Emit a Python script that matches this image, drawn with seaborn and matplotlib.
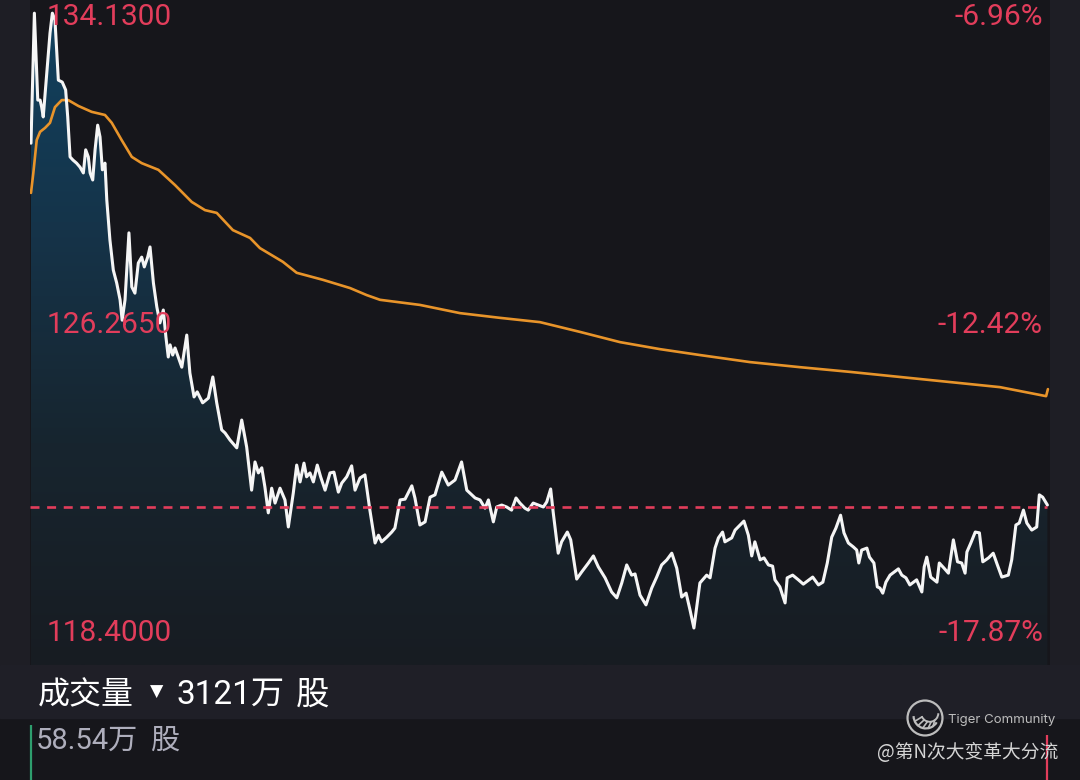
import numpy as np
import matplotlib
matplotlib.use("Agg")
import matplotlib.pyplot as plt
import matplotlib.transforms as mtrans
from matplotlib.patches import Rectangle, Circle, Arc
from matplotlib.colors import LinearSegmentedColormap
import seaborn as sns

# ---------------- data ----------------
minute = [0, 1.3, 2.6, 3.5, 4.1, 4.7, 7.3, 8.2, 9.2, 10.5, 12.0, 13.3, 14.1, 15.0, 16.1, 17.5,
          18.8, 20.1, 21.0, 22.0, 22.7, 23.7, 24.6, 25.6, 26.5, 27.4, 28.4, 29.1, 30.3, 31.6,
          32.9, 34.2, 35.0, 36.1, 37.6, 38.7, 39.9, 41.2, 42.5, 43.5, 44.8, 45.7, 47.0, 48.3,
          49.5, 50.8, 51.8, 52.7, 53.4, 54.4, 55.3, 56.5, 57.9, 59.8, 61.0, 62.6, 63.8, 65.9,
          68.1, 69.8, 71.3, 73.2, 74.5, 76.4, 79.0, 80.9, 82.8, 84.7, 86.0, 87.3, 88.6, 89.8,
          91.1, 92.4, 93.7, 95.6, 97.5, 98.8, 100.7, 102.0, 103.3, 104.8, 105.8, 107.1, 108.4,
          109.9, 111.2, 112.9, 114.8, 116.3, 118.0, 119.3, 121.2, 123.1, 124.4, 126.3, 128.2,
          130.1, 132.1, 133.4, 134.6, 136.6, 138.5, 139.7, 141.7, 143.6, 146.2, 147.4, 149.3,
          151.3, 153.2, 155.1, 157.7, 160.2, 162.8, 165.3, 167.3, 170.5, 172.4, 174.3, 175.6,
          177.5, 178.8, 180.7, 182.6, 184.5, 186.2, 187.7, 189.6, 190.9, 192.8, 194.8, 196.7,
          198.0, 199.5, 200.5, 202.4, 203.7, 205.9, 207.2, 209.5, 211.4, 214.0, 215.9, 217.8,
          220.4, 222.9, 224.9, 226.8, 228.7, 230.6, 231.9, 233.8, 236.1, 238.3, 240.2, 242.1,
          244.1, 246.0, 247.9, 249.8, 251.5, 253.0, 254.5, 256.8, 259.4, 260.7, 262.6, 263.9,
          265.5, 266.4, 269.0, 270.3, 273.7, 275.4, 276.7, 277.9, 279.9, 281.4, 283.1, 284.7,
          285.6, 287.5, 289.5, 290.3, 292.4, 294.6, 296.5, 300.1, 302.3, 304.0, 305.7, 307.4,
          309.0, 310.8, 312.1, 313.8, 315.7, 317.0, 317.8, 318.9, 320.9, 321.9, 323.6, 324.9,
          325.9, 327.0, 328.2, 329.8, 331.4, 333.0, 334.3, 335.9, 337.4, 340.0, 342.0, 342.9,
          343.9, 345.4, 347.8, 348.7, 350.5, 352.2, 354.1, 355.7, 357.3, 358.6, 359.3, 360.8,
          362.5, 364.1, 365.4, 367.6, 369.4, 371.0, 372.7, 375.2, 376.5, 378.1, 379.4, 381.0,
          382.3, 384.2, 386.1, 387.1, 388.4, 390.2]
price = [130.78, 134.10, 131.88, 131.88, 131.70, 131.45, 133.59, 134.10, 133.93, 132.39, 132.34,
         132.14, 131.45, 130.43, 130.35, 130.27, 130.17, 130.02, 130.61, 130.43, 130.02, 129.84,
         130.61, 131.24, 130.94, 130.10, 130.27, 129.33, 128.31, 127.54, 127.21, 126.78, 126.26,
         126.78, 128.49, 127.11, 126.95, 127.72, 127.87, 127.62, 127.87, 128.13, 127.21, 126.60,
         126.19, 126.52, 125.83, 125.32, 125.63, 125.37, 125.55, 125.32, 125.06, 125.88, 124.91,
         124.30, 124.43, 124.15, 124.27, 124.81, 124.15, 123.46, 123.38, 123.20, 123.00, 123.71,
         123.02, 121.92, 122.64, 122.36, 122.49, 122.00, 121.34, 121.97, 121.59, 121.97, 121.67,
         120.98, 121.85, 122.56, 122.13, 122.61, 122.26, 122.36, 122.13, 122.56, 122.26, 121.92,
         122.36, 122.38, 121.87, 122.10, 122.26, 122.54, 121.92, 122.23, 122.31, 121.41, 120.57,
         120.77, 120.60, 120.72, 120.85, 120.95, 121.67, 121.69, 122.03, 121.72, 121.03, 121.11,
         121.74, 121.80, 122.38, 122.05, 122.18, 122.64, 121.92, 121.72, 121.67, 121.46, 121.67,
         121.11, 121.49, 121.54, 121.49, 121.41, 121.72, 121.59, 121.46, 121.41, 121.59, 121.54,
         121.49, 121.62, 121.95, 121.34, 120.31, 120.60, 120.85, 120.65, 119.65, 119.83, 120.06,
         120.24, 119.96, 119.68, 119.32, 119.17, 119.55, 120.01, 119.75, 119.78, 119.24, 118.99,
         119.42, 119.70, 120.01, 120.14, 120.31, 119.93, 119.19, 119.29, 118.86, 118.40, 119.55,
         119.75, 119.68, 120.44, 120.70, 120.85, 120.60, 120.70, 120.90, 121.13, 120.77, 120.24,
         120.60, 120.14, 120.19, 120.01, 119.98, 119.63, 119.45, 119.04, 119.68, 119.75, 119.63,
         119.52, 119.70, 119.50, 119.57, 120.06, 120.72, 120.95, 121.28, 120.83, 120.57, 120.47,
         120.39, 120.06, 120.39, 120.44, 120.21, 120.06, 119.45, 119.42, 119.29, 119.57, 119.75,
         119.83, 119.91, 119.75, 119.68, 119.50, 119.63, 119.32, 119.96, 120.21, 119.70, 119.57,
         120.06, 119.93, 119.80, 120.65, 120.09, 120.06, 119.80, 120.34, 120.57, 120.85, 120.83,
         120.09, 120.19, 120.31, 120.01, 119.70, 119.75, 120.14, 121.03, 121.08, 121.41, 121.08,
         120.90, 120.98, 121.80, 121.74, 121.54]

ma_minute = [0, 0.9, 2.2, 3.5, 5.4, 7.3, 9.2, 11.8, 14.3, 18.2, 23.3, 28.4, 31.0, 34.8, 38.7,
             42.5, 48.9, 55.3, 61.7, 66.8, 71.3, 77.5, 84.1, 87.9, 96.7, 102.0, 112.1, 122.5,
             128.9, 134.0, 149.3, 164.7, 180.0, 195.4, 210.8, 226.1, 241.5, 256.8, 276.0, 295.2,
             314.4, 333.6, 352.8, 372.0, 387.4, 389.7, 390.4]
ma_price = [129.51, 130.02, 130.86, 131.07, 131.17, 131.30, 131.70, 131.88, 131.88, 131.73,
            131.58, 131.50, 131.30, 130.86, 130.43, 130.27, 130.10, 129.71, 129.28, 129.07,
            129.00, 128.56, 128.36, 128.10, 127.75, 127.47, 127.29, 127.08, 126.90, 126.78,
            126.65, 126.44, 126.32, 126.21, 125.96, 125.70, 125.52, 125.37, 125.19, 125.06,
            124.94, 124.81, 124.68, 124.55, 124.35, 124.32, 124.50]

ref_price = 121.50
level_prices = [134.13, 126.265, 118.40]
level_labels = ["134.1300", "126.2650", "118.4000"]
level_pcts = ["-6.96%", "-12.42%", "-17.87%"]

vol_minute = [0, 390]
vol_value = [53.0, 43.5]
vol_colors = ["#2e9e6e", "#e23d5b"]

volume_title = "成交量"
volume_total = "3121万 股"
volume_scale = "58.54万 股"
brand = "Tiger Community"
author = "@第N次大变革大分流"

# ---------------- styling ----------------
sns.set_theme(style="dark")
plt.rcParams['font.family'] = ['Roboto', 'Noto Sans CJK SC', 'DejaVu Sans']

W, H = 1080, 780
RED = "#e23d5b"
fig = plt.figure(figsize=(W / 100, H / 100), dpi=100, facecolor="#1e1e25")


def fx(x):
    return x / W


def fy(y):
    return 1 - y / H


fig.patches.append(Rectangle((0, 0), 1, fy(718), transform=fig.transFigure,
                             color="#16161b", zorder=-5))
fig.patches.append(Rectangle((0, fy(718)), 1, (718 - 665) / H, transform=fig.transFigure,
                             color="#1f1f27", zorder=-5))

ax = fig.add_axes([fx(30), fy(665), (1050 - 30) / W, 665 / H])
ax.set_facecolor("#16161b")
XMIN, XMAX = -0.38, 391.2
YMIN, YMAX = 117.455, 134.436

# gradient area under the price line
poly = ax.fill_between(minute, price, YMIN, color="none", lw=0)
cmap = LinearSegmentedColormap.from_list("g", ["#114260", "#15344a", "#17252f", "#181c22"])
grad = np.linspace(0, 1, 256).reshape(-1, 1)
im = ax.imshow(grad, aspect="auto", cmap=cmap, extent=[XMIN, XMAX, YMIN, YMAX],
               origin="upper", zorder=1, interpolation="bilinear")
im.set_clip_path(poly.get_paths()[0], transform=ax.transData)

sns.lineplot(x=ma_minute, y=ma_price, ax=ax, color="#e8942a", lw=1.9,
             estimator=None, sort=False, zorder=3)
sns.lineplot(x=minute, y=price, ax=ax, color="#f5f5f5", lw=2.2,
             estimator=None, sort=False, zorder=4)
ax.axhline(ref_price, xmax=(1047 - 30) / 1020, color=RED, lw=1.9, dashes=(3.4, 2.9), zorder=5)

ax.set_xlim(XMIN, XMAX)
ax.set_ylim(YMIN, YMAX)
ax.set_xticks([])
ax.set_yticks([])
ax.set_xlabel("")
ax.set_ylabel("")
ax.grid(False)
for s in ax.spines.values():
    s.set_visible(False)

tr = mtrans.blended_transform_factory(ax.transAxes, ax.transData)
dy = 0.12
for p, lab, pct in zip(level_prices, level_labels, level_pcts):
    ax.text(17 / 1020, p - dy, lab, transform=tr, color=RED, fontsize=21.5,
            va="center", ha="left", zorder=6)
    ax.text(1013 / 1020, p - dy, pct, transform=tr, color=RED, fontsize=21.5,
            va="center", ha="right", zorder=6)

# volume panel
vax = fig.add_axes([fx(30), 0, (1050 - 30) / W, 62 / H])
vax.patch.set_alpha(0)
vax.vlines(vol_minute, 0, vol_value, colors=vol_colors, lw=1.6, clip_on=False)
vax.set_xlim(XMIN, XMAX)
vax.set_ylim(0, 60)
vax.set_xticks([])
vax.set_yticks([])
vax.grid(False)
for s in vax.spines.values():
    s.set_visible(False)

# band texts
fig.text(fx(38), fy(695), volume_title, color="white", fontsize=23, va="center",
         family=["Noto Sans CJK SC"])
fig.text(fx(150), fy(692), "▼", color="white", fontsize=12.5, va="center",
         family=["DejaVu Sans"])
fig.text(fx(177), fy(695), "3121万", color="white", fontsize=24, va="center",
         family=["Roboto", "Noto Sans CJK SC"])
fig.text(fx(296), fy(695), "股", color="white", fontsize=24, va="center",
         family=["Noto Sans CJK SC"])
fig.text(fx(36), fy(741), "58.54万", color="#aeaebc", fontsize=21, va="center",
         family=["Roboto", "Noto Sans CJK SC"])
fig.text(fx(150), fy(741), "股", color="#aeaebc", fontsize=21, va="center",
         family=["Noto Sans CJK SC"])

# watermark
lax = fig.add_axes([fx(906), fy(737), 38 / W, 38 / H])
lax.set_xlim(-1, 1)
lax.set_ylim(-1, 1)
lax.set_aspect("equal")
lax.axis("off")
lax.add_patch(Circle((0, 0), 0.92, fill=False, ec="#bdbdbd", lw=1.6))
lax.add_patch(Arc((0.05, 0.1), 1.3, 1.3, theta1=180, theta2=330, ec="#bdbdbd", lw=1.6))
lax.add_patch(Arc((0.25, 0.25), 0.9, 0.9, theta1=200, theta2=360, ec="#bdbdbd", lw=1.4))
for a in np.radians([205, 230, 255, 280, 305]):
    lax.plot([0.05 + 0.65 * np.cos(a), 0.25 + 0.45 * np.cos(a)],
             [0.1 + 0.65 * np.sin(a), 0.25 + 0.45 * np.sin(a)], color="#bdbdbd", lw=1.2)

fig.text(fx(948), fy(720), brand, color="#bdbdbd", fontsize=9.5, va="center",
         family=["Inter", "Roboto"])
fig.text(fx(1058), fy(753), author, color="#d4d4d4", fontsize=13.5, va="center", ha="right",
         family=["Noto Sans CJK SC"])

fig.savefig("out.png", dpi=100, facecolor=fig.get_facecolor())
